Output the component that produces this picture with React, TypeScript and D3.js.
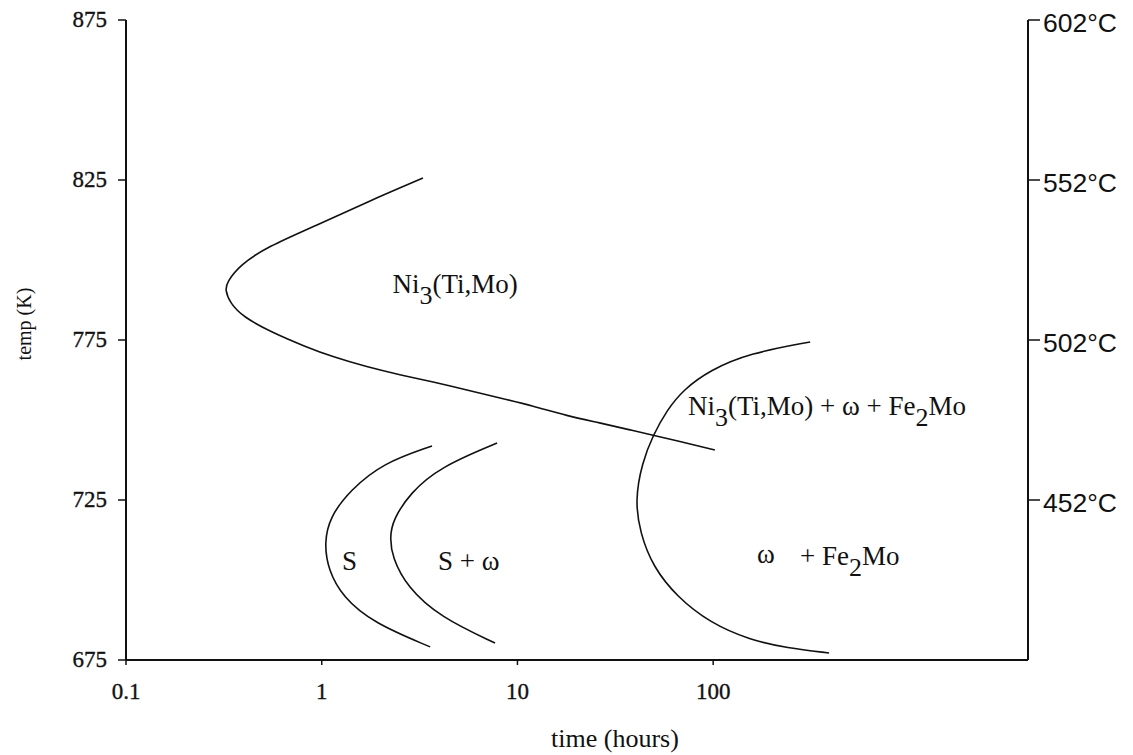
import React from "react";
import * as d3 from "d3";

// ---- data (time in hours, temperature in K) ----
const xTicks = [0.1, 1, 10, 100];
const xTickLabels = ["0.1", "1", "10", "100"];
const yTicks = [675, 725, 775, 825, 875];
const celsiusTicks = [875, 825, 775, 725];

const ni3Curve: [number, number][] = [
  [3.29, 825.6], [1.7, 818.1], [0.946, 810.9], [0.525, 804.1], [0.382, 798.4],
  [0.328, 793.1], [0.321, 790.6], [0.34, 786.6], [0.396, 782.2], [0.564, 777.2],
  [0.82, 773.0], [1.14, 769.7], [1.7, 766.6], [2.51, 764.1], [3.7, 761.9],
  [5.53, 759.4], [8.15, 756.9], [12.0, 754.4], [17.9, 751.3], [26.4, 749.1],
  [37.6, 746.9], [49.3, 745.3], [102, 740.6],
];
const sCurve: [number, number][] = [
  [3.66, 741.9], [2.06, 736.6], [1.4, 728.1], [1.1, 719.7], [1.03, 711.6],
  [1.08, 703.1], [1.28, 694.7], [1.83, 686.6], [3.58, 679.1],
];
const sOmegaCurve: [number, number][] = [
  [7.87, 742.8], [4.02, 735.3], [2.83, 727.2], [2.31, 718.75], [2.23, 713.4],
  [2.29, 707.2], [2.73, 697.8], [4.02, 688.4], [7.68, 680.3],
];
const omegaFe2MoCurve: [number, number][] = [
  [313, 774.4], [154, 770.9], [96.4, 765.6], [70.2, 759.4], [58.1, 753.1],
  [49.3, 745.3], [43.3, 736.6], [39.9, 725], [42.3, 714.7], [49.3, 704.1],
  [65.4, 694.7], [96.4, 686.6], [154, 681.25], [238.6, 678.75], [391, 677.2],
];

type Part = { t: string; sub?: boolean };
const regionLabels: { time: number; temp: number; parts: Part[] }[] = [
  { time: 2.3, temp: 789.7, parts: [{ t: "Ni" }, { t: "3", sub: true }, { t: "(Ti,Mo)" }] },
  {
    time: 74.4, temp: 751.6,
    parts: [{ t: "Ni" }, { t: "3", sub: true }, { t: "(Ti,Mo) + \u03C9 + Fe" }, { t: "2", sub: true }, { t: "Mo" }],
  },
  { time: 1.27, temp: 703.1, parts: [{ t: "S" }] },
  { time: 3.93, temp: 703.1, parts: [{ t: "S + \u03C9" }] },
  { time: 167.6, temp: 705.3, parts: [{ t: "\u03C9" }] },
  { time: 278, temp: 704.7, parts: [{ t: "+ Fe" }, { t: "2", sub: true }, { t: "Mo" }] },
];

const W = 1133;
const H = 755;
const left = 126;
const right = 1028;
const top = 20;
const bottom = 660;

export default function App() {
  const x = d3.scaleLog().domain([0.1, 4060]).range([left, right]);
  const y = d3.scaleLinear().domain([675, 875]).range([bottom, top]);
  const line = d3
    .line<[number, number]>()
    .x((d) => x(d[0]))
    .y((d) => y(d[1]))
    .curve(d3.curveBasis);

  const serif = "'Liberation Serif', 'Times New Roman', serif";
  const sans = "'Liberation Sans', Arial, sans-serif";
  const ink = "#111";

  const curves = [ni3Curve, sCurve, sOmegaCurve, omegaFe2MoCurve];

  return (
    <svg
      width={W}
      height={H}
      style={{ position: "absolute", left: 0, top: 0, background: "#fff" }}
    >
      <rect x={0} y={0} width={W} height={H} fill="#fff" />
      {/* axes */}
      <line x1={left} x2={left} y1={top} y2={bottom} stroke={ink} strokeWidth={2} />
      <line x1={left} x2={right} y1={bottom} y2={bottom} stroke={ink} strokeWidth={2} />
      <line x1={right} x2={right} y1={top} y2={bottom} stroke={ink} strokeWidth={2} />

      {yTicks.map((v) => (
        <g key={"yt" + v}>
          <line x1={left - 8} x2={left} y1={y(v)} y2={y(v)} stroke={ink} strokeWidth={1.5} />
          <text x={left - 19} y={y(v) + 7} textAnchor="end" fontFamily={serif} fontSize={23}
            fill={ink} stroke={ink} strokeWidth={0.35}>
            {v}
          </text>
        </g>
      ))}
      {celsiusTicks.map((v) => (
        <g key={"ct" + v}>
          <line x1={right} x2={right + 12} y1={y(v)} y2={y(v)} stroke={ink} strokeWidth={1.5} />
          <text x={right + 15} y={y(v) + 12} fontFamily={sans} fontSize={26.5} fill={ink}>
            {`${v - 273}°C`}
          </text>
        </g>
      ))}
      {xTicks.map((v, i) => (
        <g key={"xt" + v}>
          <line x1={x(v)} x2={x(v)} y1={bottom} y2={bottom + 5} stroke={ink} strokeWidth={1.5} />
          <text x={x(v)} y={699} textAnchor="middle" fontFamily={serif} fontSize={23}
            fill={ink} stroke={ink} strokeWidth={0.35}>
            {xTickLabels[i]}
          </text>
        </g>
      ))}

      {/* axis titles */}
      <text x={615} y={747} textAnchor="middle" fontFamily={serif} fontSize={26} fill={ink}>
        time (hours)
      </text>
      <text
        transform={`translate(31,324) rotate(-90)`}
        textAnchor="middle"
        fontFamily={serif}
        fontSize={20}
        fill={ink}
      >
        temp (K)
      </text>

      {/* curves */}
      {curves.map((c, i) => (
        <path key={"c" + i} d={line(c) || ""} fill="none" stroke={ink} strokeWidth={1.6} />
      ))}

      {/* region labels */}
      {regionLabels.map((l, i) => (
        <text key={"l" + i} x={x(l.time)} y={y(l.temp)} fontFamily={serif} fontSize={27} fill={ink}>
          {l.parts.map((p, j) => {
            const prevSub = j > 0 && l.parts[j - 1].sub;
            const dy = p.sub ? 11 : prevSub ? -11 : 0;
            return (
              <tspan key={j} dy={dy} fontSize={p.sub ? 26 : 27}>
                {p.t}
              </tspan>
            );
          })}
        </text>
      ))}
    </svg>
  );
}
